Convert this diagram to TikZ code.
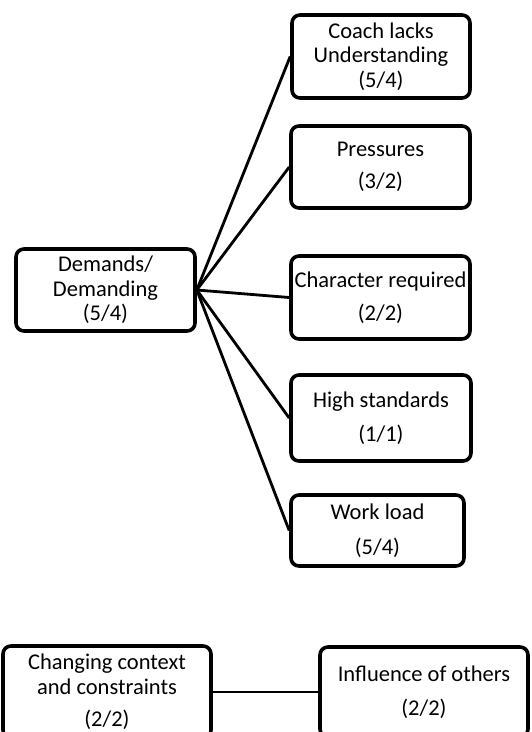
\documentclass[tikz,border=0pt]{standalone}
\usepackage{fontspec}
\setmainfont{Carlito}
\begin{document}
\begin{tikzpicture}[x=1pt,y=-1pt,
  box/.style={draw=black, line width=3.6pt, rounded corners=8pt, fill=white,
    align=center, inner sep=0pt, font=\fontsize{22.5}{24.5}\selectfont},
  link/.style={draw=black, line width=2.8pt}]
\useasboundingbox (0,0) rectangle (532,732);

% central category
\node[box, minimum width=179pt, minimum height=82pt] (dem) at (105.5,290)
  {Demands/\\Demanding\\(5/4)};

% sub-categories
\node[box, minimum width=178pt, minimum height=83pt] (coach) at (381,56.5)
  {Coach lacks\\Understanding\\(5/4)};
\node[box, minimum width=179pt, minimum height=82pt] (press) at (380.5,167)
  {Pressures\\[7pt](3/2)};
\node[box, minimum width=179pt, minimum height=83pt] (char) at (380.5,297.5)
  {Character required\\[9pt](2/2)};
\node[box, minimum width=180pt, minimum height=86pt] (high) at (381,418)
  {High standards\\[9pt](1/1)};
\node[box, minimum width=173pt, minimum height=71pt] (work) at (377.5,530.5)
  {Work load\\[11pt](5/4)};

% lower pair
\node[box, minimum width=208pt, minimum height=92pt] (ctx) at (107,692)
  {Changing context\\and constraints\\[8pt](2/2)};
\node[box, minimum width=208pt, minimum height=90pt] (infl) at (424,692)
  {Influence of others\\[9pt](2/2)};

% connectors
\foreach \t in {coach,press,char,high,work}
  \draw[link] (dem.east) -- (\t.west);
\draw[link] (ctx.east) -- (infl.west);
\end{tikzpicture}
\end{document}
